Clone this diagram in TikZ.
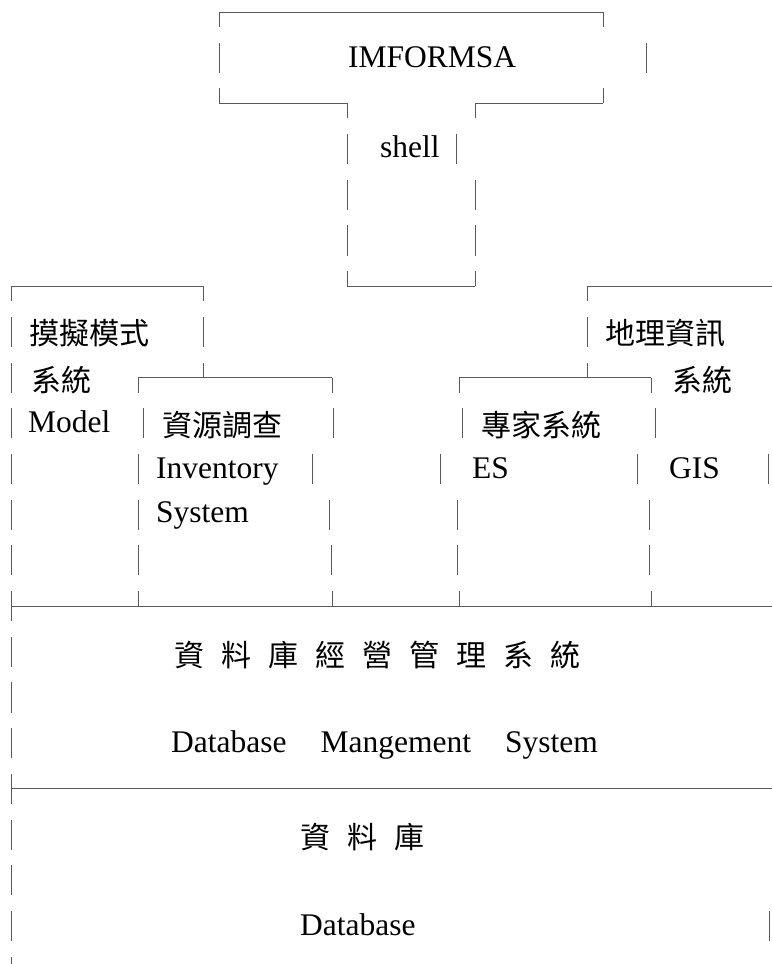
\documentclass[tikz,border=0pt]{standalone}
\usepackage{fontspec}
\setmainfont{Liberation Serif}
\newfontfamily\cjk{Noto Sans CJK TC}
\usetikzlibrary{positioning}
\tikzset{
  ln/.style={line width=0.9pt, black!65},
  en/.style={font=\fontsize{31.5}{36}\selectfont, anchor=base west, inner sep=0pt},
  zh/.style={font=\cjk\fontsize{30}{36}\selectfont, anchor=west, inner sep=0pt},
}
\newcommand{\vseg}[2]{\draw[ln] (#1,#2-0.33) -- (#1,#2+0.33);}
\newcommand{\dseg}[2]{\draw[ln] (#1,#2) -- (#1,#2+0.33);}
\newcommand{\useg}[2]{\draw[ln] (#1,#2-0.33) -- (#1,#2);}
\newcommand{\gap}{\hspace{17pt}}
\begin{document}
\begin{tikzpicture}[x=1pt, y=-45.7pt]
  \useasboundingbox (0,-0.2626) rectangle (772,20.832);
  % IMFORMSA / shell
  \draw[ln] (219,0) -- (603,0);
  \dseg{219}{0} \vseg{219}{1} \useg{219}{2}
  \dseg{603}{0} \vseg{646}{1} \useg{603}{2}
  \draw[ln] (219,2) -- (347,2);
  \draw[ln] (475,2) -- (603,2);
  \dseg{347}{2} \dseg{475}{2}
  \foreach \k in {3,4,5} \vseg{347}{\k};
  \vseg{456}{3} \vseg{475}{4} \vseg{475}{5}
  \useg{347}{6} \useg{475}{6}
  \draw[ln] (347,6) -- (475,6);
  \node[en] (imf) at (348,1.225) {IMFORMSA};
  \node[en] (shell) at (380,3.18) {shell};
  % model / inventory
  \draw[ln] (11,6) -- (203,6);
  \dseg{11}{6}
  \foreach \k in {7,...,21} \vseg{11}{\k};
  \dseg{203}{6} \vseg{203}{7} \useg{203}{8}
  \draw[ln] (138,8) -- (332,8);
  \dseg{138}{8} \vseg{143}{9} \vseg{138}{10} \vseg{138}{11} \vseg{138}{12} \useg{138}{13}
  \dseg{332}{8} \vseg{333}{9} \vseg{312}{10} \vseg{329}{11} \vseg{331}{12} \useg{332}{13}
  \node[zh] (mdl-zh) at (29,7.03) {摸擬模式};
  \node[zh] (mdl-zh2) at (31,8.05) {系統};
  \node[en] (mdl) at (28,9.21) {Model};
  \node[zh] (inv-zh) at (162,9.04) {資源調查};
  \node[en] (inv) at (156,10.2) {Inventory};
  \node[en] (inv2) at (156,11.18) {System};
  % GIS / ES
  \draw[ln] (587,6) -- (772,6);
  \dseg{587}{6} \vseg{587}{7} \useg{587}{8}
  \draw[ln] (459,8) -- (651,8);
  \dseg{459}{8} \vseg{462}{9} \vseg{440}{10} \vseg{457}{11} \vseg{457}{12} \useg{459}{13}
  \dseg{651}{8} \vseg{655}{9} \vseg{637}{10} \vseg{649}{11} \vseg{649}{12} \useg{651}{13}
  \vseg{768}{10}
  \node[zh] (gis-zh) at (605,7.03) {地理資訊};
  \node[zh] (gis-zh2) at (672,8.05) {系統};
  \node[zh] (es-zh) at (481,9.04) {專家系統};
  \node[en] (es) at (472,10.2) {ES};
  \node[en] (gis) at (669,10.2) {GIS};
  % DBMS / database
  \draw[ln] (11,13) -- (772,13);
  \draw[ln] (11,17) -- (772,17);
  \vseg{769}{20}
  \node[zh] (dbms-zh) at (174,14.07) {資\gap 料\gap 庫\gap 經\gap 營\gap 管\gap 理\gap 系\gap 統};
  \node[en] (dbms) at (171,16.21) {Database\hspace{34pt}Mangement\hspace{34pt}System};
  \node[zh] (db-zh) at (300,18.05) {資\gap 料\gap 庫};
  \node[en] (db) at (300,20.2) {Database};
\end{tikzpicture}
\end{document}
